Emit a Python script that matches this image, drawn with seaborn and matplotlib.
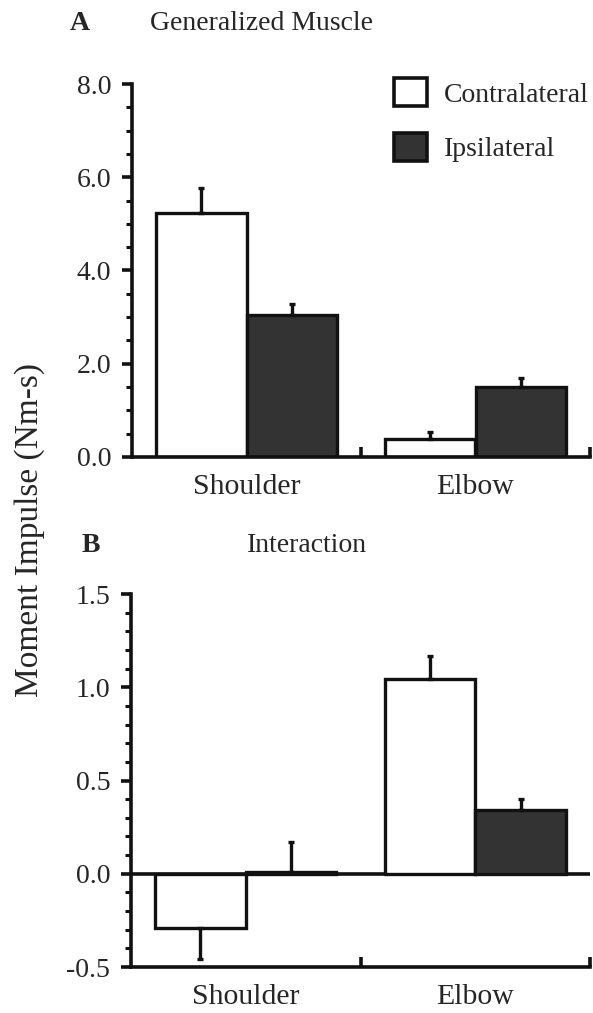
"""
Moment impulse at shoulder and elbow, contralateral vs ipsilateral arm.
Panel A: generalized muscle impulse, panel B: interaction impulse.
"""

import numpy as np
import pandas as pd
import matplotlib.pyplot as plt
import seaborn as sns
from matplotlib.patches import Patch
from matplotlib.ticker import MultipleLocator, FuncFormatter

# ─── Data ───
joints = ["Shoulder", "Elbow"]
conditions = ["Contralateral", "Ipsilateral"]
colors = {"Contralateral": "#ffffff", "Ipsilateral": "#333333"}

muscle_contra = [5.24, 0.39]
muscle_ipsi = [3.05, 1.50]
muscle_contra_err = [0.52, 0.15]
muscle_ipsi_err = [0.24, 0.19]

inter_contra = [-0.29, 1.045]
inter_ipsi = [0.01, 0.343]
inter_contra_err = [0.165, 0.125]
inter_ipsi_err = [0.16, 0.06]

sns.set_theme(style="ticks")
plt.rcParams["font.family"] = ["Liberation Serif", "DejaVu Serif"]
plt.rcParams["axes.linewidth"] = 2.6

FS = 20


def make_frame(contra, ipsi):
    rows = []
    for j, c, i in zip(joints, contra, ipsi):
        rows.append({"joint": j, "condition": "Contralateral", "value": c})
        rows.append({"joint": j, "condition": "Ipsilateral", "value": i})
    return pd.DataFrame(rows)


def draw_panel(ax, contra, ipsi, contra_err, ipsi_err, ylim, major, minor):
    df = make_frame(contra, ipsi)
    sns.barplot(
        data=df, x="joint", y="value", hue="condition",
        order=joints, hue_order=conditions, palette=colors,
        width=0.79, errorbar=None, edgecolor="#111111", linewidth=2.4,
        legend=False, ax=ax,
    )

    # one-sided error bars, pointing away from zero
    for container, errs in zip(ax.containers, [contra_err, ipsi_err]):
        for bar, err in zip(container, errs):
            x = bar.get_x() + bar.get_width() / 2
            val = bar.get_y() if bar.get_y() < 0 else bar.get_y() + bar.get_height()
            yerr = [[0], [err]] if val >= 0 else [[err], [0]]
            ax.errorbar(x, val, yerr=yerr, fmt="none", ecolor="#111111",
                        elinewidth=2.4, capsize=2.5, capthick=2.4, zorder=1)

    ax.set_ylim(*ylim)
    ax.set_xlim(-0.5, 1.5)
    ax.yaxis.set_major_locator(MultipleLocator(major))
    ax.yaxis.set_minor_locator(MultipleLocator(minor))
    ax.yaxis.set_major_formatter(FuncFormatter(lambda v, p: f"{v:.1f}"))
    ax.tick_params(axis="y", which="major", length=7, width=2.6,
                   labelsize=FS, pad=8, color="#111111")
    ax.tick_params(axis="y", which="minor", length=4, width=2.2,
                   color="#111111")

    # group separators as inward ticks, joint names as label-only ticks
    ax.set_xticks([0.5, 1.5])
    ax.set_xticklabels([])
    ax.set_xticks([0, 1], minor=True)
    ax.set_xticklabels(joints, minor=True)
    ax.tick_params(axis="x", which="major", direction="in", length=7,
                   width=2.6, color="#111111")
    ax.tick_params(axis="x", which="minor", length=0, labelsize=21.5, pad=12)

    ax.set_xlabel("")
    ax.set_ylabel("")
    for side in ["top", "right"]:
        ax.spines[side].set_visible(False)
    for side in ["left", "bottom"]:
        ax.spines[side].set_color("#111111")


fig = plt.figure(figsize=(5.93, 10.13), dpi=100)
ax1 = fig.add_axes([132 / 593, 1 - 457 / 1013, 458 / 593, 373 / 1013])
ax2 = fig.add_axes([131 / 593, 1 - 967 / 1013, 459 / 593, 373 / 1013])

draw_panel(ax1, muscle_contra, muscle_ipsi, muscle_contra_err, muscle_ipsi_err,
           (0, 8.0), 2.0, 0.5)
draw_panel(ax2, inter_contra, inter_ipsi, inter_contra_err, inter_ipsi_err,
           (-0.5, 1.5), 0.5, 0.1)
ax2.axhline(0, color="#111111", lw=2.6, zorder=0.5)

# ─── Titles and labels ───
fig.text(80 / 593, 1 - 24 / 1013, "A", fontsize=FS, fontweight="bold",
         ha="center", va="center")
fig.text(261 / 593, 1 - 24 / 1013, "Generalized Muscle", fontsize=FS,
         ha="center", va="center")
fig.text(91 / 593, 1 - 546 / 1013, "B", fontsize=FS, fontweight="bold",
         ha="center", va="center")
fig.text(307 / 593, 1 - 546 / 1013, "Interaction", fontsize=FS,
         ha="center", va="center")
fig.text(30 / 593, 1 - 530 / 1013, "Moment Impulse (Nm-s)", fontsize=24,
         rotation=90, ha="center", va="center")

handles = [Patch(facecolor=colors[c], edgecolor="#111111", linewidth=2.6, label=c)
           for c in conditions]
fig.legend(handles=handles, loc="upper left",
           bbox_to_anchor=(394 / 593, 1 - 78 / 1013), frameon=False,
           fontsize=FS, handlelength=1.2, handleheight=1.2,
           handletextpad=0.6, labelspacing=0.9, borderpad=0, borderaxespad=0)

plt.savefig("out.png", dpi=100)
plt.close()
